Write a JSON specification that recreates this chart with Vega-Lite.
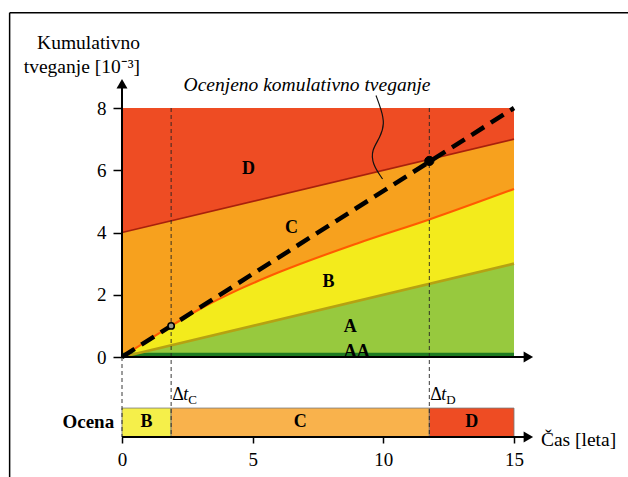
{
  "$schema": "https://vega.github.io/schema/vega-lite/v6.json",
  "width": 392,
  "height": 329,
  "autosize": {"type": "none"},
  "padding": {"left": 122, "top": 108, "right": 114, "bottom": 40},
  "background": "white",
  "config": {"view": {"stroke": null}, "font": "Liberation Serif", "axis": {"grid": false}},
  "datasets": {
    "bands": [
      {"band": "D", "x": 0, "lo": 4, "hi": 8},
      {"band": "D", "x": 15, "lo": 7, "hi": 8},
      {"band": "C", "x": 0, "lo": 0, "hi": 4},
      {"band": "C", "x": 1.88, "lo": 1.0, "hi": 4.376},
      {"band": "C", "x": 3, "lo": 1.55, "hi": 4.6},
      {"band": "C", "x": 4.5, "lo": 2.18, "hi": 4.9},
      {"band": "C", "x": 6, "lo": 2.72, "hi": 5.2},
      {"band": "C", "x": 9, "lo": 3.65, "hi": 5.8},
      {"band": "C", "x": 11.76, "lo": 4.42, "hi": 6.352},
      {"band": "C", "x": 15, "lo": 5.4, "hi": 7},
      {"band": "B", "x": 0, "lo": 0, "hi": 0},
      {"band": "B", "x": 1.88, "lo": 0.376, "hi": 1.0},
      {"band": "B", "x": 3, "lo": 0.6, "hi": 1.55},
      {"band": "B", "x": 4.5, "lo": 0.9, "hi": 2.18},
      {"band": "B", "x": 6, "lo": 1.2, "hi": 2.72},
      {"band": "B", "x": 9, "lo": 1.8, "hi": 3.65},
      {"band": "B", "x": 11.76, "lo": 2.352, "hi": 4.42},
      {"band": "B", "x": 15, "lo": 3.0, "hi": 5.4},
      {"band": "A", "x": 0, "lo": 0, "hi": 0},
      {"band": "A", "x": 15, "lo": 0, "hi": 3.0},
      {"band": "AA", "x": 0, "lo": 0, "hi": 0.14},
      {"band": "AA", "x": 15, "lo": 0, "hi": 0.14}
    ],
    "bounds": [
      {"edge": "cd", "x": 0, "y": 4},
      {"edge": "cd", "x": 15, "y": 7},
      {"edge": "bc", "x": 0, "y": 0},
      {"edge": "bc", "x": 1.88, "y": 1.0},
      {"edge": "bc", "x": 3, "y": 1.55},
      {"edge": "bc", "x": 4.5, "y": 2.18},
      {"edge": "bc", "x": 6, "y": 2.72},
      {"edge": "bc", "x": 9, "y": 3.65},
      {"edge": "bc", "x": 11.76, "y": 4.42},
      {"edge": "bc", "x": 15, "y": 5.4},
      {"edge": "ab", "x": 0, "y": 0},
      {"edge": "ab", "x": 15, "y": 3}
    ],
    "est": [{"x": 0, "y": 0}, {"x": 15, "y": 8}],
    "vlines": [
      {"x": 0, "y": 0, "y2": -2.57},
      {"x": 1.88, "y": 8, "y2": -2.57},
      {"x": 11.76, "y": 8, "y2": -2.57}
    ],
    "axlines": [
      {"x": 0, "x2": 15.45, "y": 0, "y2": 0},
      {"x": 0, "x2": 0, "y": 0, "y2": 8.7},
      {"x": 0, "x2": 15.45, "y": -2.57, "y2": -2.57}
    ],
    "frame": [
      {"x": -4.3, "x2": 20, "y": 11.06, "y2": 11.06},
      {"x": -4.3, "x2": -4.3, "y": 11.06, "y2": -4}
    ],
    "arrows": [
      {"x": 0, "y": 8.78, "dir": "up"},
      {"x": 15.55, "y": 0, "dir": "right"},
      {"x": 15.55, "y": -2.57, "dir": "right"}
    ],
    "strip": [
      {"grade": "B", "x": 0, "x2": 1.88, "mid": 0.94},
      {"grade": "C", "x": 1.88, "x2": 11.76, "mid": 6.82},
      {"grade": "D", "x": 11.76, "x2": 15, "mid": 13.38}
    ],
    "bandlabels": [
      {"t": "D", "x": 4.84, "y": 6.03},
      {"t": "C", "x": 6.49, "y": 4.13},
      {"t": "B", "x": 7.9, "y": 2.42},
      {"t": "A", "x": 8.73, "y": 0.97},
      {"t": "AA", "x": 8.98, "y": 0.17}
    ],
    "leader": [
      {"i": 1, "x": 9.72, "y": 8.4},
      {"i": 2, "x": 9.92, "y": 7.95},
      {"i": 3, "x": 10.05, "y": 7.5},
      {"i": 4, "x": 9.88, "y": 7.05},
      {"i": 5, "x": 9.55, "y": 6.65},
      {"i": 6, "x": 9.58, "y": 6.2},
      {"i": 7, "x": 9.97, "y": 5.72}
    ],
    "deltas": [{"x": 1.88, "sub": "C"}, {"x": 11.76, "sub": "D"}],
    "titles": [
      {"t": "Kumulativno", "x": 0.69, "y": 10.09},
      {"t": "tveganje [10⁻³]", "x": 0.69, "y": 9.32}
    ]
  },
  "layer": [
    {
      "data": {"name": "bands"},
      "mark": {"type": "area", "clip": false, "interpolate": "monotone"},
      "encoding": {
        "x": {"field": "x", "type": "quantitative", "scale": {"domain": [0, 15], "nice": false, "zero": false},
          "axis": {"values": [0, 5, 10, 15], "domain": false, "ticks": true, "tickColor": "black", "tickSize": 6, "tickWidth": 1.5,
            "labelFont": "Liberation Serif", "labelFontSize": 19, "labelColor": "black", "labelPadding": 7, "title": null, "labelFlush": false, "grid": false}},
        "y": {"field": "lo", "type": "quantitative", "stack": null, "scale": {"domain": [-2.57, 8], "nice": false, "zero": false},
          "axis": {"values": [0, 2, 4, 6, 8], "domain": false, "tickColor": "black", "tickSize": 9, "tickWidth": 1.5,
            "labelFont": "Liberation Serif", "labelFontSize": 19, "labelColor": "black", "labelPadding": 7, "title": null, "grid": false}},
        "y2": {"field": "hi"},
        "fill": {"field": "band", "type": "nominal", "scale": {"domain": ["D", "C", "B", "A", "AA"], "range": ["#EE4C23", "#F7A11E", "#F3EB1C", "#97C93E", "#1E7B22"]}, "legend": null}
      }
    },
    {
      "data": {"name": "bounds"},
      "mark": {"type": "line", "interpolate": "monotone"},
      "encoding": {
        "x": {"field": "x", "type": "quantitative", "scale": {"domain": [0, 15], "nice": false, "zero": false}},
        "y": {"field": "y", "type": "quantitative", "scale": {"domain": [-2.57, 8], "nice": false, "zero": false}},
        "stroke": {"field": "edge", "type": "nominal", "scale": {"domain": ["cd", "bc", "ab"], "range": ["#A8200C", "#FF5A00", "#B5A212"]}, "legend": null},
        "strokeWidth": {"field": "edge", "type": "nominal", "scale": {"domain": ["cd", "bc", "ab"], "range": [1.6, 2.6, 1.6]}, "legend": null}
      }
    },
    {
      "data": {"name": "strip"},
      "mark": {"type": "rect", "stroke": "#777777", "strokeWidth": 0.8},
      "encoding": {
        "x": {"field": "x", "type": "quantitative", "scale": {"domain": [0, 15], "nice": false, "zero": false}},
        "x2": {"field": "x2"},
        "y": {"datum": -1.64, "type": "quantitative", "scale": {"domain": [-2.57, 8], "nice": false, "zero": false}},
        "y2": {"datum": -2.57},
        "color": {"field": "grade", "type": "nominal", "scale": {"domain": ["B", "C", "D"], "range": ["#F5EF4A", "#F9B24C", "#EE4C23"]}, "legend": null}
      }
    },
    {
      "data": {"name": "vlines"},
      "mark": {"type": "rule", "color": "#222222", "strokeWidth": 0.9, "strokeDash": [4, 3]},
      "encoding": {
        "x": {"field": "x", "type": "quantitative", "scale": {"domain": [0, 15], "nice": false, "zero": false}},
        "y": {"field": "y", "type": "quantitative", "scale": {"domain": [-2.57, 8], "nice": false, "zero": false}},
        "y2": {"field": "y2"}
      }
    },
    {
      "data": {"name": "axlines"},
      "mark": {"type": "rule", "color": "black", "strokeWidth": 2},
      "encoding": {
        "x": {"field": "x", "type": "quantitative", "scale": {"domain": [0, 15], "nice": false, "zero": false}},
        "x2": {"field": "x2"},
        "y": {"field": "y", "type": "quantitative", "scale": {"domain": [-2.57, 8], "nice": false, "zero": false}},
        "y2": {"field": "y2"}
      }
    },
    {
      "data": {"name": "frame"},
      "mark": {"type": "rule", "color": "black", "strokeWidth": 1.5},
      "encoding": {
        "x": {"field": "x", "type": "quantitative", "scale": {"domain": [0, 15], "nice": false, "zero": false}},
        "x2": {"field": "x2"},
        "y": {"field": "y", "type": "quantitative", "scale": {"domain": [-2.57, 8], "nice": false, "zero": false}},
        "y2": {"field": "y2"}
      }
    },
    {
      "data": {"name": "arrows"},
      "mark": {"type": "point", "filled": true, "color": "black", "opacity": 1, "size": 120},
      "encoding": {
        "x": {"field": "x", "type": "quantitative", "scale": {"domain": [0, 15], "nice": false, "zero": false}},
        "y": {"field": "y", "type": "quantitative", "scale": {"domain": [-2.57, 8], "nice": false, "zero": false}},
        "shape": {"field": "dir", "type": "nominal", "scale": {"domain": ["up", "right"], "range": ["triangle-up", "triangle-right"]}, "legend": null}
      }
    },
    {
      "data": {"name": "est"},
      "mark": {"type": "line", "color": "black", "strokeWidth": 4.5, "strokeDash": [15, 8], "strokeCap": "butt"},
      "encoding": {
        "x": {"field": "x", "type": "quantitative", "scale": {"domain": [0, 15], "nice": false, "zero": false}},
        "y": {"field": "y", "type": "quantitative", "scale": {"domain": [-2.57, 8], "nice": false, "zero": false}}
      }
    },
    {
      "data": {"values": [{"x": 1.88, "y": 1.0}]},
      "mark": {"type": "point", "filled": true, "opacity": 1, "fill": "#9a9a8a", "stroke": "black", "strokeWidth": 1.6, "size": 40},
      "encoding": {
        "x": {"field": "x", "type": "quantitative", "scale": {"domain": [0, 15], "nice": false, "zero": false}},
        "y": {"field": "y", "type": "quantitative", "scale": {"domain": [-2.57, 8], "nice": false, "zero": false}}
      }
    },
    {
      "data": {"values": [{"x": 11.76, "y": 6.3}]},
      "mark": {"type": "point", "filled": true, "opacity": 1, "fill": "black", "stroke": "black", "strokeWidth": 1, "size": 85},
      "encoding": {
        "x": {"field": "x", "type": "quantitative", "scale": {"domain": [0, 15], "nice": false, "zero": false}},
        "y": {"field": "y", "type": "quantitative", "scale": {"domain": [-2.57, 8], "nice": false, "zero": false}}
      }
    },
    {
      "data": {"name": "leader"},
      "mark": {"type": "line", "color": "#111111", "strokeWidth": 1.2, "interpolate": "basis"},
      "encoding": {
        "x": {"field": "x", "type": "quantitative", "scale": {"domain": [0, 15], "nice": false, "zero": false}},
        "y": {"field": "y", "type": "quantitative", "scale": {"domain": [-2.57, 8], "nice": false, "zero": false}},
        "order": {"field": "i", "type": "quantitative"}
      }
    },
    {
      "data": {"name": "bandlabels"},
      "mark": {"type": "text", "font": "Liberation Serif", "fontSize": 18, "fontWeight": "bold", "color": "black"},
      "encoding": {
        "x": {"field": "x", "type": "quantitative", "scale": {"domain": [0, 15], "nice": false, "zero": false}},
        "y": {"field": "y", "type": "quantitative", "scale": {"domain": [-2.57, 8], "nice": false, "zero": false}},
        "text": {"field": "t"}
      }
    },
    {
      "data": {"name": "strip"},
      "mark": {"type": "text", "font": "Liberation Serif", "fontSize": 18, "fontWeight": "bold", "color": "black"},
      "encoding": {
        "x": {"field": "mid", "type": "quantitative", "scale": {"domain": [0, 15], "nice": false, "zero": false}},
        "y": {"datum": -2.1, "type": "quantitative", "scale": {"domain": [-2.57, 8], "nice": false, "zero": false}},
        "text": {"field": "grade"}
      }
    },
    {
      "data": {"values": [{"t": "Ocena", "x": -0.3, "y": -2.1}]},
      "mark": {"type": "text", "font": "Liberation Serif", "fontSize": 19, "fontWeight": "bold", "color": "black", "align": "right"},
      "encoding": {
        "x": {"field": "x", "type": "quantitative", "scale": {"domain": [0, 15], "nice": false, "zero": false}},
        "y": {"field": "y", "type": "quantitative", "scale": {"domain": [-2.57, 8], "nice": false, "zero": false}},
        "text": {"field": "t"}
      }
    },
    {
      "data": {"values": [{"t": "Čas [leta]", "x": 16.03, "y": -2.67}]},
      "mark": {"type": "text", "font": "Liberation Serif", "fontSize": 19.5, "color": "black", "align": "left"},
      "encoding": {
        "x": {"field": "x", "type": "quantitative", "scale": {"domain": [0, 15], "nice": false, "zero": false}},
        "y": {"field": "y", "type": "quantitative", "scale": {"domain": [-2.57, 8], "nice": false, "zero": false}},
        "text": {"field": "t"}
      }
    },
    {
      "data": {"values": [{"t": "Ocenjeno komulativno tveganje", "x": 7.08, "y": 8.74}]},
      "mark": {"type": "text", "font": "Liberation Serif", "fontSize": 19.5, "fontStyle": "italic", "color": "black", "align": "center"},
      "encoding": {
        "x": {"field": "x", "type": "quantitative", "scale": {"domain": [0, 15], "nice": false, "zero": false}},
        "y": {"field": "y", "type": "quantitative", "scale": {"domain": [-2.57, 8], "nice": false, "zero": false}},
        "text": {"field": "t"}
      }
    },
    {
      "data": {"name": "titles"},
      "mark": {"type": "text", "font": "Liberation Serif", "fontSize": 19.5, "color": "black", "align": "right"},
      "encoding": {
        "x": {"field": "x", "type": "quantitative", "scale": {"domain": [0, 15], "nice": false, "zero": false}},
        "y": {"field": "y", "type": "quantitative", "scale": {"domain": [-2.57, 8], "nice": false, "zero": false}},
        "text": {"field": "t"}
      }
    },
    {
      "data": {"name": "deltas"},
      "mark": {"type": "text", "font": "Liberation Serif", "fontSize": 18, "color": "black", "align": "left", "dx": 1},
      "encoding": {
        "x": {"field": "x", "type": "quantitative", "scale": {"domain": [0, 15], "nice": false, "zero": false}},
        "y": {"datum": -1.22, "type": "quantitative", "scale": {"domain": [-2.57, 8], "nice": false, "zero": false}},
        "text": {"value": "Δ"}
      }
    },
    {
      "data": {"name": "deltas"},
      "mark": {"type": "text", "font": "Liberation Serif", "fontSize": 18, "fontStyle": "italic", "color": "black", "align": "left", "dx": 12},
      "encoding": {
        "x": {"field": "x", "type": "quantitative", "scale": {"domain": [0, 15], "nice": false, "zero": false}},
        "y": {"datum": -1.22, "type": "quantitative", "scale": {"domain": [-2.57, 8], "nice": false, "zero": false}},
        "text": {"value": "t"}
      }
    },
    {
      "data": {"name": "deltas"},
      "mark": {"type": "text", "font": "Liberation Serif", "fontSize": 13, "color": "black", "align": "left", "dx": 17, "dy": 5},
      "encoding": {
        "x": {"field": "x", "type": "quantitative", "scale": {"domain": [0, 15], "nice": false, "zero": false}},
        "y": {"datum": -1.22, "type": "quantitative", "scale": {"domain": [-2.57, 8], "nice": false, "zero": false}},
        "text": {"field": "sub"}
      }
    }
  ]
}
